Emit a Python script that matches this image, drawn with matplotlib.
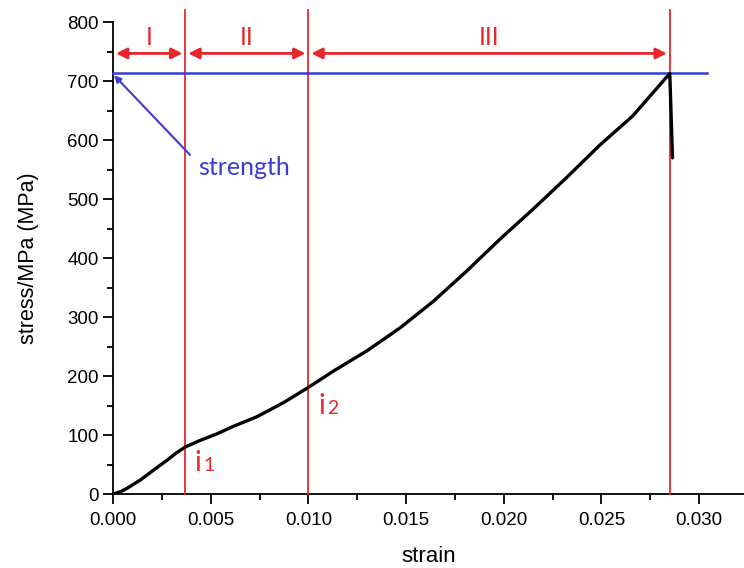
import matplotlib
matplotlib.use("Agg")
import matplotlib.pyplot as plt
import numpy as np

# data
strain = [0.0, 0.0004, 0.0007, 0.00138, 0.00206, 0.00274, 0.0032, 0.0037, 0.00445, 0.0053,
          0.00616, 0.00735, 0.00872, 0.0100, 0.01130, 0.01300, 0.01470, 0.01640,
          0.01810, 0.01980, 0.02150, 0.02320, 0.02490, 0.02660, 0.02850, 0.02864]
stress = [0.0, 4.5, 9.6, 23.6, 40.5, 57.0, 69.0, 80.0, 91.0, 102.0,
          115.0, 131.0, 155.0, 181.0, 209.0, 243.0, 282.0, 327.0,
          378.0, 432.0, 483.0, 536.0, 591.0, 641.0, 713.0, 570.0]
strength = 713.0
boundaries = [0.0037, 0.0100, 0.0285]
region_labels = ["I", "II", "III"]
xticks = [0.000, 0.005, 0.010, 0.015, 0.020, 0.025, 0.030]
yticks = [0, 100, 200, 300, 400, 500, 600, 700, 800]

RED = "#e8262b"
BLUE = "#3b3bd6"

plt.rcParams['font.family'] = ['Liberation Sans', 'DejaVu Sans']
fig = plt.figure(figsize=(7.44, 5.68), dpi=100)
ax = fig.add_axes([0.152, 0.130, 0.848, 0.831])
ax.set_xlim(0, 0.0323)
ax.set_ylim(0, 800)

ax.plot(strain, stress, color="black", lw=2.4, zorder=5,
        solid_capstyle='round', solid_joinstyle='round')

# strength line
ax.plot([0, 0.0304], [strength, strength], color=BLUE, lw=1.8, zorder=4, clip_on=False)

# vertical boundaries
for b in boundaries:
    ax.plot([b, b], [0, 820], color=RED, lw=1.3, zorder=3, clip_on=False)

# region arrows
edges = [0.0] + boundaries
for i, lab in enumerate(region_labels):
    x0, x1 = edges[i], edges[i + 1]
    ax.annotate("", xy=(x1 - 0.00015, 747), xytext=(x0 + 0.00015, 747),
                arrowprops=dict(arrowstyle="<|-|>", color=RED, lw=2.0,
                                mutation_scale=16, shrinkA=0, shrinkB=0),
                annotation_clip=False)
    ax.text((x0 + x1) / 2, 774, lab, color=RED, fontsize=18, ha="center",
            va="center", family=["Lato", "DejaVu Sans"])

# strength annotation
ax.annotate("", xy=(0.00005, strength - 3), xytext=(0.00394, 575),
            arrowprops=dict(arrowstyle="-|>", color=BLUE, lw=1.5,
                            mutation_scale=10, shrinkA=0, shrinkB=0))
ax.text(0.00435, 554, "strength", color=BLUE, fontsize=18, ha="left",
        va="center", family=["Lato", "DejaVu Sans"])

# i1, i2 labels
ax.text(0.00415, 40, "i", color=RED, fontsize=20, ha="left", va="baseline",
        family=["Lato", "DejaVu Sans"])
ax.text(0.00462, 40, "1", color=RED, fontsize=14, ha="left", va="baseline",
        family=["Lato", "DejaVu Sans"])
ax.text(0.01050, 136, "i", color=RED, fontsize=20, ha="left", va="baseline",
        family=["Lato", "DejaVu Sans"])
ax.text(0.01097, 136, "2", color=RED, fontsize=14, ha="left", va="baseline",
        family=["Lato", "DejaVu Sans"])

for s in ["top", "right"]:
    ax.spines[s].set_visible(False)
for s in ["left", "bottom"]:
    ax.spines[s].set_linewidth(1.3)

ax.set_xticks(xticks)
ax.set_xticklabels([f"{v:.3f}" for v in xticks])
ax.set_yticks(yticks)
ax.set_xticks(np.arange(0.0025, 0.0323, 0.005), minor=True)
ax.set_yticks(np.arange(50, 800, 100), minor=True)
ax.tick_params(which="major", direction="out", length=7, width=1.3, labelsize=13.5, colors="black")
ax.tick_params(which="minor", direction="out", length=4, width=1.3)
ax.tick_params(axis="x", pad=6)

ax.set_xlabel("strain", fontsize=16, labelpad=12)
ax.set_ylabel("stress/MPa (MPa)", fontsize=15.5, labelpad=20)

fig.savefig("out.png", dpi=100)
